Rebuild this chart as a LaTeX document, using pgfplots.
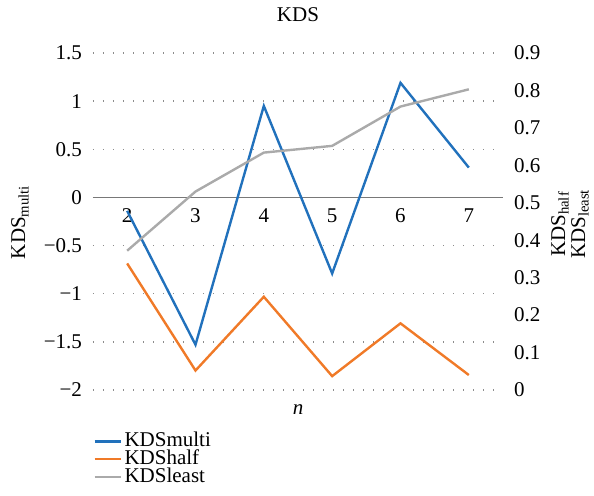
\documentclass[border=0pt]{standalone}
\usepackage{pgfplots}
\pgfplotsset{compat=1.18}
\usepackage{fontspec}
\setmainfont{Liberation Serif}
\definecolor{cmulti}{RGB}{33,113,188}
\definecolor{chalf}{RGB}{240,122,40}
\definecolor{cleast}{RGB}{170,170,170}
\definecolor{czero}{RGB}{120,120,120}
\definecolor{cgrid}{RGB}{140,140,140}
\begin{document}
\begin{tikzpicture}[font=\fontsize{10.5}{12}\selectfont]
\useasboundingbox (-46.5pt,-53pt) rectangle (250.5pt,195pt);
\begin{axis}[
  at={(0,0)}, anchor=south west,
  scale only axis, width=205pt, height=168.5pt,
  xmin=1.5, xmax=7.5, ymin=-2, ymax=1.5,
  axis x line=middle, axis y line=left,
  x axis line style={draw=czero, line width=0.8pt, -},
  y axis line style={draw=none},
  hide obscured x ticks=false, hide obscured y ticks=false,
  major tick length=0,
  xtick={2,3,4,5,6,7},
  xticklabel style={yshift=-2pt},
  ytick={-2,-1.5,-1,-0.5,0,0.5,1,1.5},
  yticklabels={−2,−1.5,−1,−0.5,0,0.5,1,1.5},
  xticklabels={2,3,4,5,6,7},
  yticklabel style={xshift=-2pt},
  ymajorgrids,
  grid style={draw=cgrid, line width=0.7pt, dash pattern=on 0.7pt off 4.3pt},
  clip=false,
]
\addplot[cmulti, line width=1.2pt] coordinates {(2,-0.14) (3,-1.53) (4,0.95) (5,-0.79) (6,1.19) (7,0.31)};
\end{axis}
\begin{axis}[
  at={(0,0)}, anchor=south west,
  scale only axis, width=205pt, height=168.5pt,
  xmin=1.5, xmax=7.5, ymin=0, ymax=0.9,
  axis x line=none, axis y line=right,
  y axis line style={draw=none},
  major tick length=0,
  ytick={0,0.1,0.2,0.3,0.4,0.5,0.6,0.7,0.8,0.9},
  yticklabels={0,0.1,0.2,0.3,0.4,0.5,0.6,0.7,0.8,0.9},
  yticklabel style={xshift=2pt},
  clip=false,
  legend style={at={(0,0)}, anchor=north west, yshift=-21pt, draw=none, fill=none,
    inner sep=0pt, row sep=0pt, cells={anchor=west},
    nodes={inner sep=1pt, text height=6.2pt, text depth=0.75pt}},
  legend image code/.code={\draw[#1] (0cm,0cm) -- (0.47cm,0cm);},
]
\addlegendimage{cmulti, line width=1.2pt}
\addlegendentry{KDSmulti}
\addplot[chalf, line width=1.2pt] coordinates {(2,0.338) (3,0.052) (4,0.249) (5,0.037) (6,0.178) (7,0.04)};
\addlegendentry{KDShalf}
\addplot[cleast, line width=1.2pt] coordinates {(2,0.372) (3,0.53) (4,0.634) (5,0.652) (6,0.757) (7,0.803)};
\addlegendentry{KDSleast}
\end{axis}
\node at (102.5pt,187.5pt) {KDS};
\node[rotate=90] at (-36.5pt,84pt) {KDS\textsubscript{multi}};
\node[rotate=90, align=center, font=\fontsize{10.5}{10}\selectfont] at (238.5pt,83pt) {KDS\textsubscript{half}\\KDS\textsubscript{least}};
\node at (102.5pt,-10pt) {\textit{n}};
\end{tikzpicture}
\end{document}
